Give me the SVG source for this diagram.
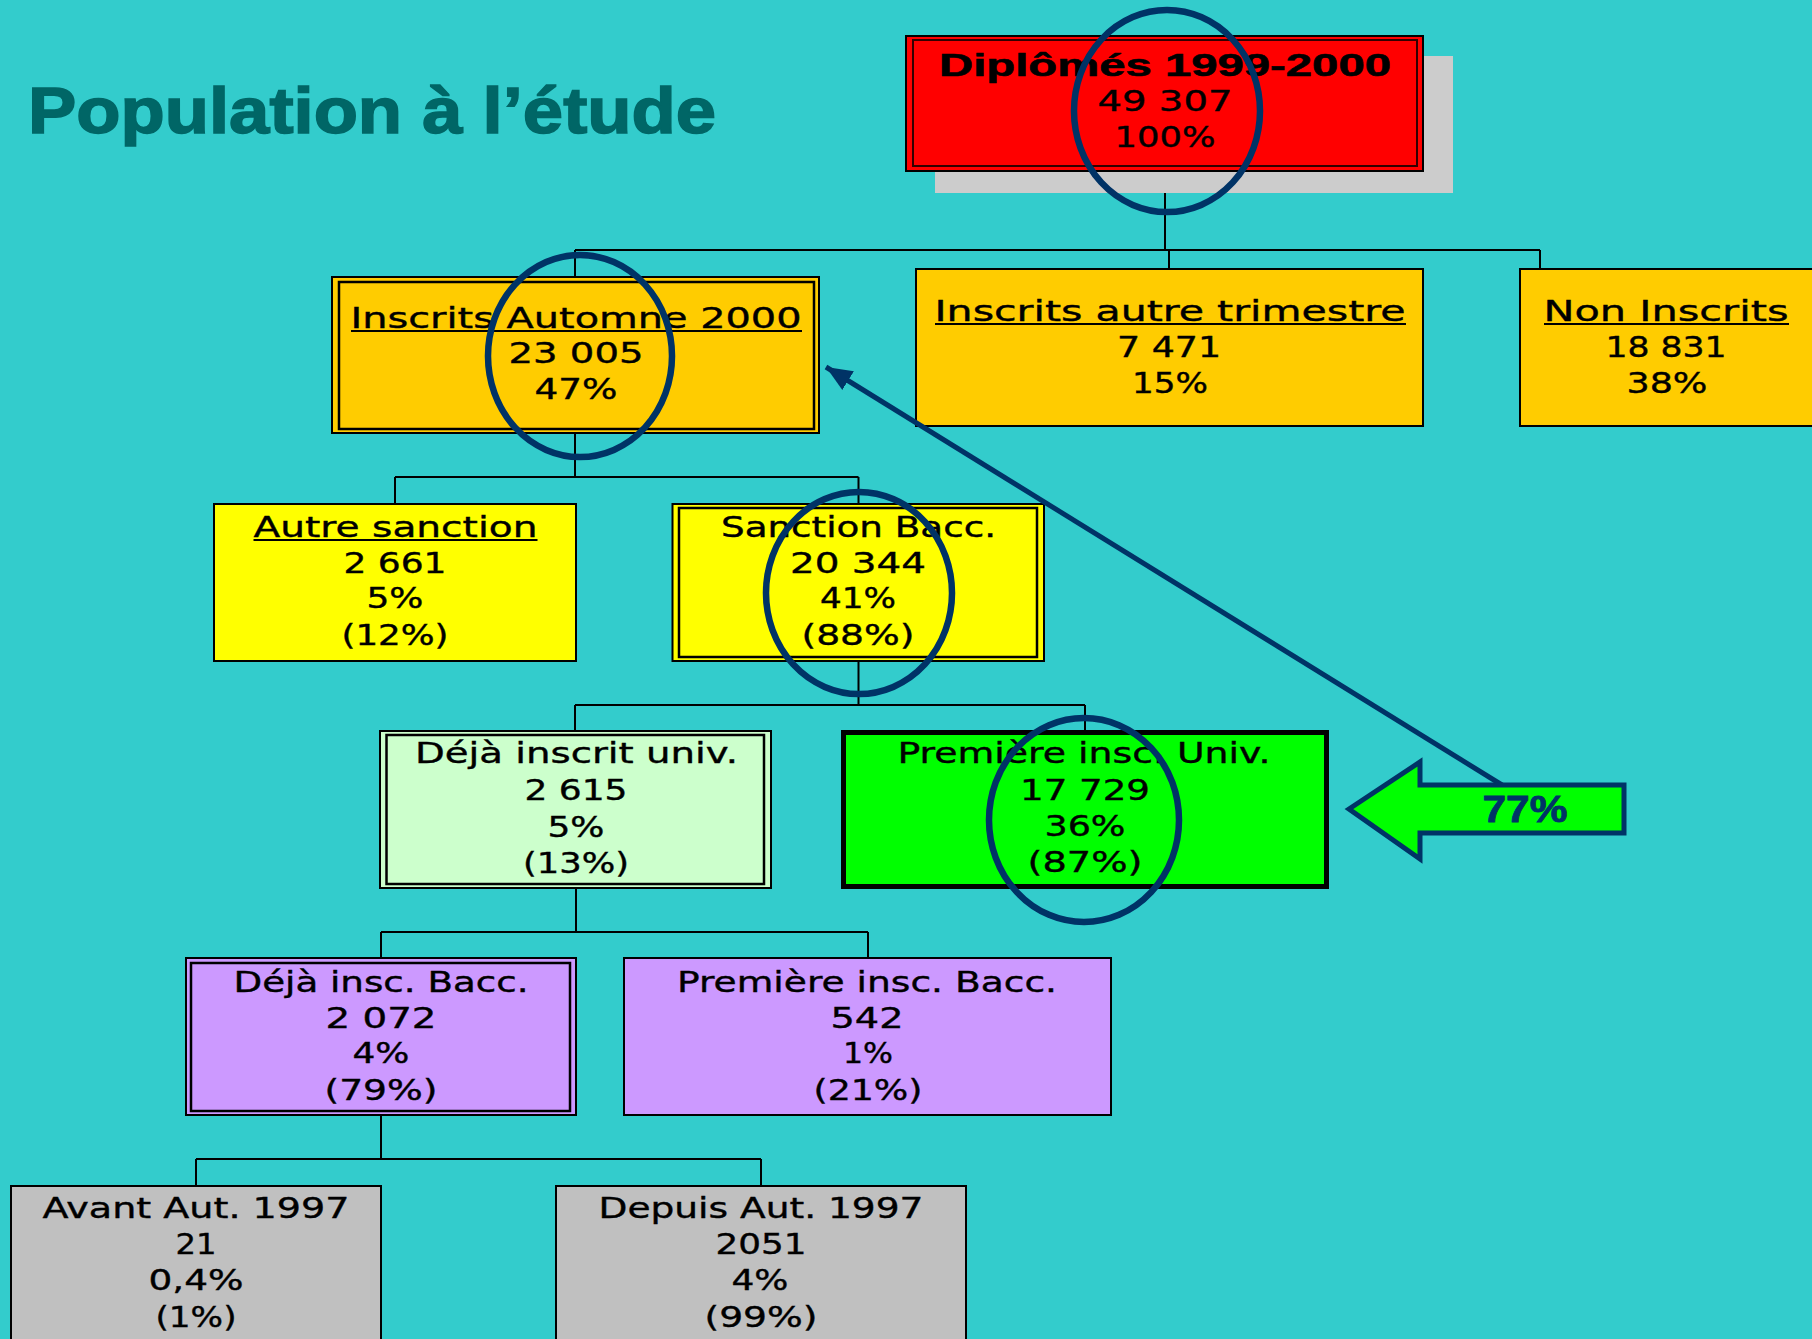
<svg xmlns="http://www.w3.org/2000/svg" width="1812" height="1339" viewBox="0 0 1812 1339">
<defs>
<style>
.t{font-family:"DejaVu Sans","Liberation Sans",sans-serif;font-size:29px;text-anchor:middle;fill:#000;stroke:#000;stroke-width:0.4}
.b{font-family:"Liberation Sans",Arial,sans-serif;font-weight:bold;text-anchor:middle}
.box{stroke:#000;stroke-width:2}
.in{fill:none;stroke:#000;stroke-width:2.5}
.ul{stroke:#000;stroke-width:2}
.conn path{fill:none;stroke:#000;stroke-width:2}
.ell{fill:none;stroke:#003366;stroke-width:6.5}
</style>
<marker id="ah" markerUnits="userSpaceOnUse" markerWidth="30" markerHeight="24" refX="26" refY="12" orient="auto">
<path d="M0,1 L26,12 L0,23 Z" fill="#003366"/>
</marker>
</defs>
<rect x="0" y="0" width="1812" height="1339" fill="#33CCCC"/>
<text x="28" y="133" font-family="Liberation Sans, Arial, sans-serif" font-weight="bold" font-size="65" fill="#006666" stroke="#006666" stroke-width="1.5" textLength="688" lengthAdjust="spacingAndGlyphs">Population à l’étude</text>

<g id="connectors" class="conn">
<path d="M1165,171 V250 M575,250 H1540 M575,250 V277 M1169,250 V269 M1540,250 V269"/>
<path d="M575,433 V477 M395,477 H858.5 M395,477 V504 M858.5,477 V504"/>
<path d="M858.5,661 V705 M575,705 H1085 M575,705 V731 M1085,705 V730"/>
<path d="M576,888 V932 M381,932 H868 M381,932 V958 M868,932 V958"/>
<path d="M381,1115 V1159 M196,1159 H761 M196,1159 V1186 M761,1159 V1186"/>
</g>

<g id="n1">
<rect x="935" y="56" width="518" height="137" fill="#CCCCCC"/>
<rect x="906" y="36" width="517" height="135" fill="#FF0000" class="box" stroke-width="1.5"/>
<rect x="913" y="40" width="504" height="126" fill="none" stroke="#330000" stroke-width="2"/>
<text class="b" x="1165" y="76" font-size="32" stroke="#000" stroke-width="0.6" textLength="452" lengthAdjust="spacingAndGlyphs">Diplômés 1999-2000</text>
<text class="t" x="1165" y="111" textLength="135" lengthAdjust="spacingAndGlyphs">49 307</text>
<text class="t" x="1165" y="147" textLength="101" lengthAdjust="spacingAndGlyphs">100%</text>
</g>

<g id="n2">
<rect x="332" y="277" width="487" height="156" fill="#FFCC00" class="box" stroke-width="1.5"/>
<rect x="339" y="282" width="475" height="147" class="in"/>
<text class="t" x="576" y="328" textLength="451" lengthAdjust="spacingAndGlyphs">Inscrits Automne 2000</text>
<line x1="351" y1="331" x2="802" y2="331" class="ul"/>
<text class="t" x="576" y="363" textLength="135" lengthAdjust="spacingAndGlyphs">23 005</text>
<text class="t" x="576" y="399" textLength="83" lengthAdjust="spacingAndGlyphs">47%</text>
</g>

<g id="n3">
<rect x="916" y="269" width="507" height="157" fill="#FFCC00" class="box"/>
<text class="t" x="1170" y="321" textLength="471" lengthAdjust="spacingAndGlyphs">Inscrits autre trimestre</text>
<line x1="935" y1="324" x2="1406" y2="324" class="ul"/>
<text class="t" x="1169" y="357" textLength="104" lengthAdjust="spacingAndGlyphs">7 471</text>
<text class="t" x="1170" y="393" textLength="76" lengthAdjust="spacingAndGlyphs">15%</text>
</g>

<g id="n4">
<rect x="1520" y="269" width="310" height="157" fill="#FFCC00" class="box"/>
<text class="t" x="1666" y="321" textLength="245" lengthAdjust="spacingAndGlyphs">Non Inscrits</text>
<line x1="1544" y1="324" x2="1789" y2="324" class="ul"/>
<text class="t" x="1666" y="357" textLength="121" lengthAdjust="spacingAndGlyphs">18 831</text>
<text class="t" x="1667" y="393" textLength="81" lengthAdjust="spacingAndGlyphs">38%</text>
</g>

<g id="n5">
<rect x="214" y="504" width="362" height="157" fill="#FFFF00" class="box"/>
<text class="t" x="395.5" y="537" textLength="284" lengthAdjust="spacingAndGlyphs">Autre sanction</text>
<line x1="253.5" y1="540" x2="537.5" y2="540" class="ul"/>
<text class="t" x="395" y="573" textLength="103" lengthAdjust="spacingAndGlyphs">2 661</text>
<text class="t" x="395" y="608" textLength="57" lengthAdjust="spacingAndGlyphs">5%</text>
<text class="t" x="395" y="645" textLength="107" lengthAdjust="spacingAndGlyphs">(12%)</text>
</g>

<g id="n6">
<rect x="672.5" y="504" width="371.5" height="157" fill="#FFFF00" class="box" stroke-width="1.5"/>
<rect x="679" y="508" width="358" height="149" class="in"/>
<text class="t" x="858.5" y="537" textLength="275" lengthAdjust="spacingAndGlyphs">Sanction Bacc.</text>
<text class="t" x="858" y="573" textLength="136" lengthAdjust="spacingAndGlyphs">20 344</text>
<text class="t" x="858" y="608" textLength="76" lengthAdjust="spacingAndGlyphs">41%</text>
<text class="t" x="858" y="645" textLength="113" lengthAdjust="spacingAndGlyphs">(88%)</text>
</g>

<g id="n7">
<rect x="380" y="731" width="391" height="157" fill="#CCFFCC" class="box" stroke-width="1.5"/>
<rect x="386.5" y="735" width="377.5" height="149" class="in"/>
<text class="t" x="576.5" y="763" textLength="323" lengthAdjust="spacingAndGlyphs">Déjà inscrit univ.</text>
<text class="t" x="576" y="800" textLength="103" lengthAdjust="spacingAndGlyphs">2 615</text>
<text class="t" x="576" y="837" textLength="57" lengthAdjust="spacingAndGlyphs">5%</text>
<text class="t" x="576" y="873" textLength="106" lengthAdjust="spacingAndGlyphs">(13%)</text>
</g>

<g id="n8">
<rect x="843.5" y="732.5" width="483" height="154" fill="#00FF00" stroke="#000" stroke-width="5"/>
<text class="t" x="1084" y="763" textLength="373" lengthAdjust="spacingAndGlyphs">Première insc. Univ.</text>
<text class="t" x="1085" y="800" textLength="130" lengthAdjust="spacingAndGlyphs">17 729</text>
<text class="t" x="1085" y="836" textLength="81" lengthAdjust="spacingAndGlyphs">36%</text>
<text class="t" x="1085" y="872" textLength="115" lengthAdjust="spacingAndGlyphs">(87%)</text>
</g>

<g id="n9">
<rect x="186" y="958" width="390" height="157" fill="#CC99FF" class="box" stroke-width="1.5"/>
<rect x="191" y="963" width="379" height="148" class="in"/>
<text class="t" x="381" y="992" textLength="295" lengthAdjust="spacingAndGlyphs">Déjà insc. Bacc.</text>
<text class="t" x="381" y="1028" textLength="111" lengthAdjust="spacingAndGlyphs">2 072</text>
<text class="t" x="381" y="1063" textLength="57" lengthAdjust="spacingAndGlyphs">4%</text>
<text class="t" x="381" y="1100" textLength="113" lengthAdjust="spacingAndGlyphs">(79%)</text>
</g>

<g id="n10">
<rect x="624" y="958" width="487" height="157" fill="#CC99FF" class="box"/>
<text class="t" x="867" y="992" textLength="380" lengthAdjust="spacingAndGlyphs">Première insc. Bacc.</text>
<text class="t" x="867" y="1028" textLength="73" lengthAdjust="spacingAndGlyphs">542</text>
<text class="t" x="868" y="1063" textLength="50" lengthAdjust="spacingAndGlyphs">1%</text>
<text class="t" x="868" y="1100" textLength="109" lengthAdjust="spacingAndGlyphs">(21%)</text>
</g>

<g id="n11">
<rect x="11" y="1186" width="370" height="200" fill="#C0C0C0" class="box"/>
<text class="t" x="196" y="1218" textLength="307" lengthAdjust="spacingAndGlyphs">Avant Aut. 1997</text>
<text class="t" x="196" y="1254" textLength="41" lengthAdjust="spacingAndGlyphs">21</text>
<text class="t" x="196" y="1290" textLength="95" lengthAdjust="spacingAndGlyphs">0,4%</text>
<text class="t" x="196" y="1327" textLength="81" lengthAdjust="spacingAndGlyphs">(1%)</text>
</g>

<g id="n12">
<rect x="556" y="1186" width="410" height="200" fill="#C0C0C0" class="box"/>
<text class="t" x="761" y="1218" textLength="325" lengthAdjust="spacingAndGlyphs">Depuis Aut. 1997</text>
<text class="t" x="761" y="1254" textLength="91" lengthAdjust="spacingAndGlyphs">2051</text>
<text class="t" x="760" y="1290" textLength="57" lengthAdjust="spacingAndGlyphs">4%</text>
<text class="t" x="761" y="1327" textLength="113" lengthAdjust="spacingAndGlyphs">(99%)</text>
</g>

<g id="highlights">
<ellipse class="ell" cx="1167" cy="111" rx="93" ry="101"/>
<ellipse class="ell" cx="580" cy="356" rx="92" ry="101"/>
<ellipse class="ell" cx="859" cy="593" rx="93" ry="101"/>
<ellipse class="ell" cx="1084" cy="820" rx="95" ry="102"/>
</g>

<g id="arrow77">
<line x1="1502" y1="785" x2="826" y2="367" stroke="#003366" stroke-width="5" marker-end="url(#ah)"/>
<polygon points="1349,809 1420,762 1420,785 1624,785 1624,833 1420,833 1420,859" fill="#00FF00" stroke="#003366" stroke-width="5"/>
<text class="b" x="1525" y="822" font-size="37" fill="#003366" stroke="#003366" stroke-width="0.8" textLength="85" lengthAdjust="spacingAndGlyphs">77%</text>
</g>
</svg>
